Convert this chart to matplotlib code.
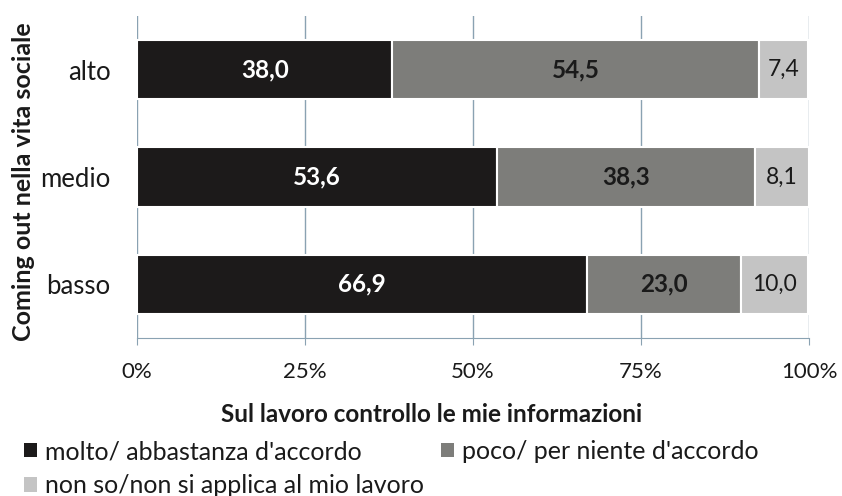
import matplotlib
matplotlib.use("Agg")
import matplotlib.pyplot as plt
from matplotlib.patches import Patch

plt.rcParams['font.family'] = ['Lato', 'DejaVu Sans']

categories = ["basso", "medio", "alto"]
series_names = ["molto/ abbastanza d'accordo", "poco/ per niente d'accordo",
                "non so/non si applica al mio lavoro"]
molto = [66.9, 53.6, 38.0]
poco = [23.0, 38.3, 54.5]
nonso = [10.0, 8.1, 7.4]
tick_values = [0, 25, 50, 75, 100]
tick_labels = ["0%", "25%", "50%", "75%", "100%"]

colors = ["#1c1a1a", "#7d7d7a", "#c4c4c4"]
text_colors = ["white", "#1a1a1a", "#1a1a1a"]
weights = ["bold", "bold", "normal"]
sizes = [17.5, 17.5, 16.5]

fig = plt.figure(figsize=(8.42, 4.96), dpi=100)
ax = fig.add_axes([137/842, 1-338/496, (809-137)/842, (338-16)/496])

ypos = list(range(len(categories)))
left = [0]*len(categories)
for i, vals in enumerate([molto, poco, nonso]):
    bars = ax.barh(ypos, vals, left=left, height=0.55, color=colors[i],
                   edgecolor="white", linewidth=1.5, zorder=3)
    for j, b in enumerate(bars):
        ax.text(left[j] + vals[j]/2, ypos[j], f"{vals[j]:.1f}".replace(".", ","),
                ha="center", va="center", color=text_colors[i],
                fontsize=sizes[i], fontweight=weights[i], zorder=4)
    left = [l + v for l, v in zip(left, vals)]

ax.set_xlim(0, 100)
ax.set_ylim(-0.5, 2.5)
ax.set_yticks(ypos)
ax.set_yticklabels(categories, fontsize=18.5, color="#1a1a1a")
ax.set_xticks(tick_values)
ax.set_xticklabels(tick_labels, fontsize=16, color="#1a1a1a")
ax.tick_params(axis="y", length=0, pad=19)
ax.tick_params(axis="x", length=5, color="#8aa2b2", pad=12, direction="out")
ax.grid(axis="x", color="#8aa2b2", linewidth=1, zorder=0)
for s in ["top", "right", "left"]:
    ax.spines[s].set_visible(False)
ax.spines["bottom"].set_color("#8aa2b2")

ax.set_xlabel("Sul lavoro controllo le mie informazioni", fontsize=17.5,
              fontweight="bold", color="#1a1a1a")
ax.xaxis.set_label_coords((432-137)/672, -(415-338)/322)
ax.xaxis.label.set_verticalalignment("center")
ax.set_ylabel("Coming out nella vita sociale", fontsize=18, fontweight="bold",
              color="#1a1a1a")
ax.yaxis.set_label_coords(-0.152, (338-182)/322)

handles = [Patch(facecolor=c, edgecolor="none") for c in colors]
common = dict(loc="upper left", frameon=False, fontsize=18, handlelength=0.52,
              handleheight=0.52, handletextpad=0.32, labelspacing=0.45,
              borderaxespad=0, borderpad=0, labelcolor="#1a1a1a")
leg1 = fig.legend([handles[0], handles[2]], [series_names[0], series_names[2]],
                  bbox_to_anchor=(24/842, 1-440/496), **common)
leg2 = fig.legend([handles[1]], [series_names[1]],
                  bbox_to_anchor=(441/842, 1-440/496), **common)

fig.savefig("out.png", dpi=100, facecolor="white")
